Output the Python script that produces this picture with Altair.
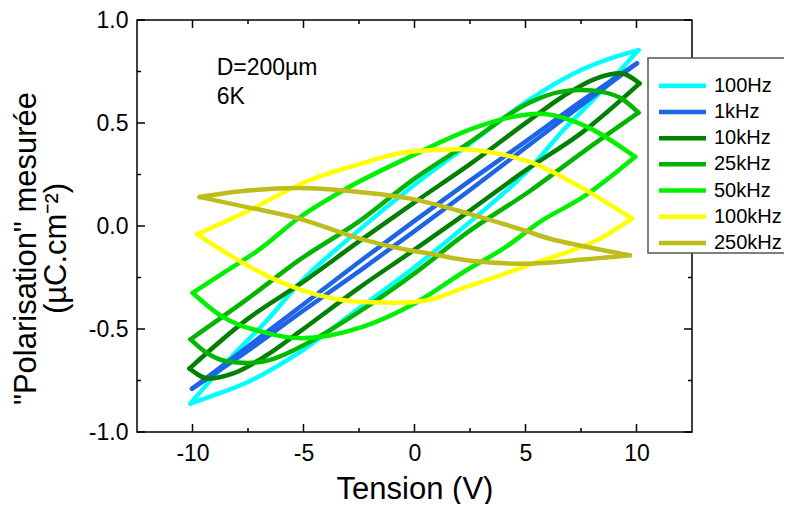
import altair as alt
import pandas as pd

# ---------------- data ----------------
labels = ["100Hz", "1kHz", "10kHz", "25kHz", "50kHz", "100kHz", "250kHz"]
colors = ["#00FFFF", "#1E64E6", "#008000", "#00B400", "#00F000", "#FFFF00", "#BDBD1B"]

# 100Hz
hz100_up_v = [-10.09, -8.2, -6.7, -5.2, -2.5, 0, 2.5, 5.2, 7.5, 9.0, 10.09]
hz100_up_p = [-0.862, -0.63, -0.465, -0.28, -0.02, 0.20, 0.40, 0.615, 0.757, 0.82, 0.854]
hz100_lo_v = [-10.09, -9.0, -7.5, -5.2, -2.5, 0, 2.5, 5.2, 6.7, 8.2, 10.09]
hz100_lo_p = [-0.862, -0.82, -0.757, -0.615, -0.40, -0.20, 0.02, 0.28, 0.465, 0.63, 0.854]
# 1kHz
k1_up_v = [-10.02, -7.5, -5, -2.5, 0, 2.5, 5, 7.5, 10.02]
k1_up_p = [-0.79, -0.585, -0.38, -0.175, 0.025, 0.22, 0.41, 0.605, 0.79]
k1_lo_v = [-10.02, -7.5, -5, -2.5, 0, 2.5, 5, 7.5, 10.02]
k1_lo_p = [-0.79, -0.605, -0.41, -0.22, -0.025, 0.175, 0.38, 0.585, 0.79]
# 10kHz
k10_up_v = [-10.14, -7.6, -5, -2.5, 0, 2.5, 5.2, 6.7, 8.2, 9.26, 10.14]
k10_up_p = [-0.692, -0.458, -0.27, -0.075, 0.115, 0.30, 0.515, 0.63, 0.717, 0.741, 0.692]
k10_lo_v = [-10.14, -9.26, -8.2, -6.7, -5.2, -2.5, 0, 2.5, 5, 7.6, 10.14]
k10_lo_p = [-0.692, -0.741, -0.717, -0.63, -0.515, -0.30, -0.115, 0.075, 0.27, 0.458, 0.692]
# 25kHz
k25_up_v = [-10.09, -7.6, -5.2, -2.4, 0, 2.4, 5.2, 6.5, 7.5, 8.5, 9.3, 10.09]
k25_up_p = [-0.55, -0.36, -0.166, 0.03, 0.23, 0.40, 0.60, 0.65, 0.66, 0.65, 0.62, 0.55]
k25_lo_v = [-10.09, -9.3, -8.5, -7.5, -6.5, -5.2, -2.4, 0, 2.4, 5.2, 7.6, 10.09]
k25_lo_p = [-0.55, -0.62, -0.655, -0.665, -0.65, -0.59, -0.41, -0.23, -0.03, 0.17, 0.36, 0.55]
# 50kHz
k50_up_v = [-9.99, -8.5, -7, -5.2, -3.1, -0.23, 2.79, 4.2, 5.65, 7.6, 9.94]
k50_up_p = [-0.325, -0.22, -0.115, 0.04, 0.18, 0.335, 0.48, 0.525, 0.545, 0.49, 0.336]
k50_lo_v = [-9.99, -8.66, -6.85, -5.1, -2.34, -0.23, 2.34, 4.14, 5.65, 7.6, 9.94]
k50_lo_p = [-0.325, -0.44, -0.514, -0.545, -0.49, -0.39, -0.215, -0.10, 0.02, 0.141, 0.336]
# 100kHz
k100_up_v = [-9.8, -8.7, -7.6, -4.74, -2.5, -0.23, 2.03, 3.8, 5.2, 7.46, 9.8]
k100_up_p = [-0.04, 0.013, 0.068, 0.222, 0.30, 0.36, 0.372, 0.35, 0.311, 0.19, 0.036]
k100_lo_v = [-9.8, -8.2, -6.55, -5.05, -2.34, -0.8, 0.5, 2.34, 5.35, 8.36, 9.8]
k100_lo_p = [-0.04, -0.15, -0.247, -0.312, -0.369, -0.373, -0.362, -0.296, -0.182, -0.061, 0.036]
# 250kHz
k250_up_v = [-9.68, -7.5, -5.2, -2.5, -0.23, 2.5, 4.9, 6.1, 7.6, 9.7]
k250_up_p = [0.141, 0.172, 0.184, 0.165, 0.134, 0.058, -0.02, -0.062, -0.098, -0.142]
k250_lo_v = [-9.68, -7.6, -5.2, -2.5, -0.23, 0.68, 2.34, 5.0, 7.6, 9.7]
k250_lo_p = [0.141, 0.093, 0.036, -0.06, -0.118, -0.134, -0.166, -0.183, -0.163, -0.142]

x_major = [-10, -5, 0, 5, 10]
x_minor = [-7.5, -2.5, 2.5, 7.5]
y_major = [-1.0, -0.5, 0.0, 0.5, 1.0]
y_minor = [-0.75, -0.25, 0.25, 0.75]

series = [
    ("100Hz", hz100_up_v, hz100_up_p, hz100_lo_v, hz100_lo_p),
    ("1kHz", k1_up_v, k1_up_p, k1_lo_v, k1_lo_p),
    ("10kHz", k10_up_v, k10_up_p, k10_lo_v, k10_lo_p),
    ("25kHz", k25_up_v, k25_up_p, k25_lo_v, k25_lo_p),
    ("50kHz", k50_up_v, k50_up_p, k50_lo_v, k50_lo_p),
    ("100kHz", k100_up_v, k100_up_p, k100_lo_v, k100_lo_p),
    ("250kHz", k250_up_v, k250_up_p, k250_lo_v, k250_lo_p),
]
rows = []
for name, uv, up, lv, lp in series:
    for v, p in zip(uv, up):
        rows.append({"freq": name, "branch": name + "_up", "V": v, "P": p})
    for v, p in zip(lv, lp):
        rows.append({"freq": name, "branch": name + "_lo", "V": v, "P": p})
df = pd.DataFrame(rows)

# ---------------- layout ----------------
W, H = 555, 412
FONT = "Liberation Sans"
xscale = alt.Scale(domain=[-12.5, 12.5], nice=False, zero=False)
yscale = alt.Scale(domain=[-1.0, 1.0], nice=False, zero=False)
cscale = alt.Scale(domain=labels, range=colors)
fix_minus = "replace(format(datum.value, '{}'), '\u2212', '-')"

lines = alt.Chart(df).mark_line(strokeWidth=4.5, interpolate="monotone", strokeCap="round").encode(
    x=alt.X("V:Q", scale=xscale,
            axis=alt.Axis(orient="bottom", values=x_major, ticks=False, tickSize=0,
                          domain=False, grid=False, labelFontSize=23, labelPadding=10,
                          labelExpr=fix_minus.format("d"), labelColor="black",
                          title="Tension (V)", titleFontSize=31, titleFontWeight="normal",
                          titleBaseline="alphabetic", titleY=66, titleColor="black")),
    y=alt.Y("P:Q", scale=yscale,
            axis=alt.Axis(orient="left", values=y_major, ticks=False, tickSize=0,
                          domain=False, grid=False, labelFontSize=23, labelPadding=9,
                          labelExpr=fix_minus.format(".1f"), labelColor="black",
                          title=['"Polarisation" mesurée', "(µC.cm⁻²)"],
                          titleFontSize=31, titleFontWeight="normal", titleLineHeight=30,
                          titleBaseline="bottom", titleX=-95, titleY=228, titleColor="black")),
    color=alt.Color("freq:N", sort=labels, scale=cscale, legend=None),
    detail="branch:N",
)


def xticks(vals, size, top):
    d = pd.DataFrame({"t": vals})
    y0 = 0 if top else H
    y1 = size if top else H - size
    return alt.Chart(d).mark_rule(color="black", strokeWidth=1.5).encode(
        x=alt.X("t:Q", scale=xscale, axis=None),
        y=alt.value(y0), y2=alt.value(y1))


def yticks(vals, size, left):
    d = pd.DataFrame({"t": vals})
    x0 = 0 if left else W
    x1 = size if left else W - size
    return alt.Chart(d).mark_rule(color="black", strokeWidth=1.5).encode(
        y=alt.Y("t:Q", scale=yscale, axis=None),
        x=alt.value(x0), x2=alt.value(x1))


ticks = [
    xticks(x_major, 8, True), xticks(x_minor, 4, True),
    xticks(x_major, 8, False), xticks(x_minor, 4, False),
    yticks(y_major, 8, True), yticks(y_minor, 4, True),
    yticks(y_major, 8, False), yticks(y_minor, 4, False),
]

one = alt.Data(values=[{}])
txt1 = alt.Chart(one).mark_text(text="D=200µm", fontSize=23, align="left",
                                baseline="alphabetic", color="black").encode(
    x=alt.value(79.7), y=alt.value(55))
txt2 = alt.Chart(one).mark_text(text="6K", fontSize=23, align="left",
                                baseline="alphabetic", color="black").encode(
    x=alt.value(79.7), y=alt.value(84))

# legend (drawn by hand so its rows match the original spacing)
LEG_X0 = 522.0
box = alt.Chart(one).mark_rect(fill="white", stroke="#555555", strokeWidth=1.5).encode(
    x=alt.value(LEG_X0 - 11), x2=alt.value(LEG_X0 + 150), y=alt.value(38), y2=alt.value(233))
leg_df = pd.DataFrame({"freq": labels})
leg_y = alt.Y("freq:N", sort=labels, axis=None,
              scale=alt.Scale(type="point", range=[65.7, 223.0], padding=0))
leg_sym = alt.Chart(leg_df).mark_rule(strokeWidth=4.5).encode(
    y=leg_y, x=alt.value(LEG_X0), x2=alt.value(LEG_X0 + 47),
    color=alt.Color("freq:N", sort=labels, scale=cscale, legend=None))
leg_txt = alt.Chart(leg_df).mark_text(fontSize=20, align="left", baseline="middle",
                                      color="black").encode(
    y=leg_y, x=alt.value(LEG_X0 + 55), text="freq:N")

chart = (
    alt.layer(lines, *ticks, txt1, txt2, box, leg_sym, leg_txt)
    .resolve_scale(y="independent")
    .resolve_axis(x="independent", y="independent")
    .properties(width=W, height=H,
                padding={"left": 129, "top": 12, "right": 92, "bottom": 72},
                autosize=alt.AutoSizeParams(type="none"))
    .configure(font=FONT)
    .configure_view(stroke="black", strokeWidth=1.5)
)

chart.save("out.html", embed_options={"renderer": "svg", "actions": False})
